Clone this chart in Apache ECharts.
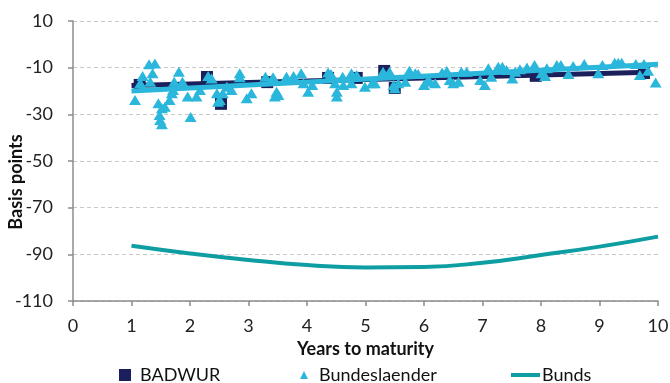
<!DOCTYPE html>
<html>
<head>
<meta charset="utf-8">
<script src="https://cdn.jsdelivr.net/npm/echarts@6/dist/echarts.min.js"></script>
<style>
  html, body { margin: 0; padding: 0; background: #fff; }
  #chart { width: 670px; height: 383px; }
</style>
</head>
<body>
<div id="chart"></div>
<script>
// years to maturity, spread in bp
const badwur = [
  [1.14, -17.4], [2.29, -14], [2.53, -25.5], [3.32, -16.2], [4.36, -14.4],
  [4.85, -14.4], [5.32, -11.4], [5.5, -18.7], [7.91, -13.5], [9.76, -12.3]
]

const bundeslaender = [
  [1.06, -23.9], [1.15, -16.6], [1.19, -13.6], [1.30, -8.5], [1.40, -8.2], [1.36, -12.4],
  [1.32, -16], [1.46, -25.3], [1.52, -27.4], [1.48, -30.3], [1.52, -34.3], [1.49, -32.4],
  [1.57, -26.7], [1.65, -23.9], [1.69, -21], [1.71, -19.6], [1.81, -11.7], [1.73, -16],
  [1.87, -16], [1.96, -22.4], [2.01, -31.1], [2.11, -22.4], [2.17, -19.6], [2.31, -13.6],
  [2.37, -14.6], [2.46, -21], [2.51, -23.9], [2.56, -21], [2.63, -18.2], [2.48, -24.6],
  [2.71, -19.6], [2.85, -12.4], [2.85, -14.1], [2.97, -23.1], [3.05, -21], [3.29, -13.9],
  [3.42, -14.1], [3.48, -20.3], [3.51, -21.7], [3.45, -22.4], [3.65, -13.9], [3.77, -13.6],
  [3.9, -12.4], [3.94, -16.7], [4.02, -20.3], [4.09, -17.4], [4.36, -12.1], [4.41, -12.7],
  [4.48, -16.7], [4.51, -20.3], [4.51, -22.4], [4.61, -13.9], [4.62, -17.4], [4.76, -12.4],
  [4.85, -13.1], [4.76, -16.7], [4.99, -18.2], [5.11, -16.7], [5.16, -16.7], [5.3, -11.7],
  [5.41, -11.7], [5.48, -17.4], [5.5, -18.8], [5.56, -16.7], [5.68, -16], [5.75, -11.3],
  [5.85, -12.4], [5.9, -12.7], [6.0, -17.4], [6.07, -15.3], [6.1, -16], [6.19, -16.7],
  [6.31, -12.1], [6.39, -11.4], [6.44, -15.3], [6.5, -16.7], [6.59, -16], [6.64, -11.7],
  [6.73, -11.7], [6.96, -15.3], [7.04, -17.4], [7.1, -10.3], [7.15, -13.9], [7.27, -9.6],
  [7.34, -9.6], [7.41, -11], [7.51, -14.6], [7.56, -11.7], [7.64, -10.7], [7.76, -9.9],
  [7.89, -8.9], [8.01, -12.4], [8.07, -13.6], [8.1, -10.3], [8.27, -8.9], [8.34, -8.9],
  [8.47, -12.7], [8.55, -9.3], [8.74, -8.4], [8.98, -12.4], [9.05, -8.9], [9.26, -7.9],
  [9.32, -7.9], [9.38, -7.9], [9.62, -8.4], [9.69, -13.1], [9.76, -8.4], [9.83, -11.3],
  [9.96, -16.4]
]

const bunds = [
  [1, -86.3], [2, -89.6], [3, -92.4], [4, -94.6], [5, -95.6],
  [6, -95.4], [7, -93.6], [8, -90.3], [9, -86.7], [10, -82.4]
]

// linear trend lines
const badwurTrend = [[1.0, -17.6], [9.85, -12.0]]
const laenderTrend = [[1.0, -20.0], [10.0, -8.5]]

const xTicks = { min: 0, max: 10, interval: 1 }
const yTicks = { min: -110, max: 10, interval: 20 }

const NAVY = '#1b1f5c'
const SKY = '#2bb7dc'
const TEAL = '#0e9ea2'
const FONT = 'Lato'

const chart = echarts.init(document.getElementById('chart'))

const legendText = { color: '#111', fontSize: 18, fontFamily: FONT }

chart.setOption({
  animation: false,
  grid: { left: 73, right: 12, top: 21, bottom: 82, outerBoundsMode: 'none', containLabel: false },
  legend: [
    {
      data: [{ name: 'BADWUR', icon: 'rect' }],
      left: 114, top: 361, itemWidth: 12, itemHeight: 12, itemGap: 0,
      textStyle: { ...legendText, padding: [0, 0, 0, 4] }
    },
    {
      data: [{ name: 'Bundeslaender', icon: 'triangle' }],
      left: 295, top: 361, itemWidth: 8, itemHeight: 8,
      textStyle: { ...legendText, padding: [0, 0, 0, 6] }
    },
    {
      data: [{ name: 'Bunds', icon: 'rect' }],
      left: 506, top: 361, itemWidth: 29, itemHeight: 4,
      textStyle: { ...legendText, padding: [0, 0, 0, -3] }
    }
  ],
  xAxis: {
    type: 'value',
    ...xTicks,
    name: 'Years to maturity',
    nameLocation: 'middle',
    nameGap: 34,
    nameTextStyle: { color: '#111', fontSize: 18, fontWeight: 'bold', fontFamily: FONT },
    axisLine: { onZero: false, lineStyle: { color: '#8c8c8c', width: 1.5 } },
    axisTick: { show: true, length: 5, lineStyle: { color: '#8c8c8c', width: 1.5 } },
    axisLabel: { color: '#222', fontSize: 18, fontFamily: FONT, margin: 16 },
    splitLine: { show: false }
  },
  yAxis: {
    type: 'value',
    ...yTicks,
    name: 'Basis points',
    nameLocation: 'middle',
    nameGap: 48,
    nameMoveOverlap: false,
    nameTextStyle: { color: '#111', fontSize: 18, fontWeight: 'bold', fontFamily: FONT, padding: [0, 0, 0, -42] },
    axisLine: { show: true, onZero: false, lineStyle: { color: '#8c8c8c', width: 1.5 } },
    axisTick: { show: true, length: 5, lineStyle: { color: '#8c8c8c', width: 1.5 } },
    axisLabel: { color: '#222', fontSize: 18, fontFamily: FONT, margin: 20 },
    splitLine: { lineStyle: { color: '#c8c8c8', type: [4, 3], width: 1 } }
  },
  series: [
    {
      name: 'BADWUR',
      type: 'scatter',
      data: badwur,
      symbol: 'rect',
      symbolSize: 12,
      itemStyle: { color: NAVY, opacity: 1 },
      z: 2
    },
    {
      name: 'BADWUR trend',
      type: 'line',
      data: badwurTrend,
      symbol: 'none',
      lineStyle: { color: NAVY, width: 5 },
      silent: true,
      z: 3
    },
    {
      name: 'Bundeslaender',
      type: 'scatter',
      data: bundeslaender,
      symbol: 'triangle',
      symbolSize: [12, 10],
      itemStyle: { color: SKY, opacity: 1 },
      z: 4
    },
    {
      name: 'Bundeslaender trend',
      type: 'line',
      data: laenderTrend,
      symbol: 'none',
      lineStyle: { color: SKY, width: 5 },
      silent: true,
      z: 5
    },
    {
      name: 'Bunds',
      type: 'line',
      data: bunds,
      smooth: true,
      symbol: 'none',
      itemStyle: { color: TEAL },
      lineStyle: { color: TEAL, width: 4 },
      z: 6
    }
  ]
})
</script>
</body>
</html>
